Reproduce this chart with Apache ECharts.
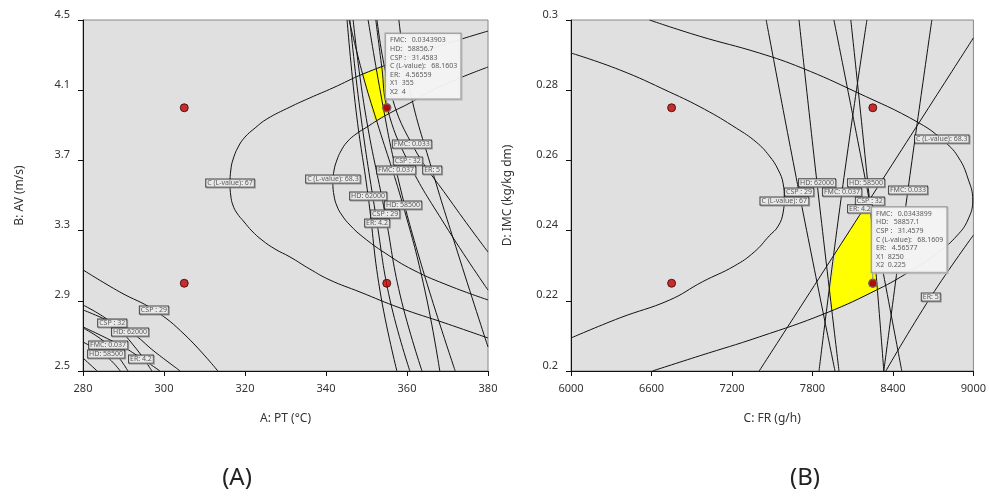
<!DOCTYPE html>
<html><head><meta charset="utf-8">
<script src="https://cdn.jsdelivr.net/npm/echarts@6/dist/echarts.min.js"></script>
<style>html,body{margin:0;padding:0;background:#fff}#c{width:989px;height:497px}</style>
</head><body><div id="c"></div>
<script>
// ---------- axis ticks ----------
const ticksA_x = [280, 300, 320, 340, 360, 380];
const ticksA_y = [2.5, 2.9, 3.3, 3.7, 4.1, 4.5];
const ticksB_x = [6000, 6600, 7200, 7800, 8400, 9000];
const ticksB_y = [0.2, 0.22, 0.24, 0.26, 0.28, 0.3];

// ---------- design points ----------
const designA = [[305, 4.0], [355, 4.0], [305, 3.0], [355, 3.0]];
const designB = [[6750, 0.275], [8250, 0.275], [6750, 0.225], [8250, 0.225]];

// ---------- panel A contours (PT, AV) ----------
const A_C67 = [[380,4.437],[368.9,4.358],[358.3,4.272],[349.1,4.192],[341.7,4.113],[336.0,4.056],[331.1,4.004],[325.4,3.936],[322.5,3.885],[320.0,3.833],[318.3,3.776],[317.0,3.702],[316.5,3.645],[316.3,3.571],[316.5,3.497],[317.0,3.446],[318.0,3.400],[319.8,3.349],[321.7,3.298],[324.2,3.246],[327.4,3.195],[331.1,3.150],[336.0,3.081],[341.0,3.018],[348.4,2.950],[358.3,2.859],[369.4,2.773],[380,2.688]];
const A_C683 = [[380,4.232],[373.1,4.170],[366.4,4.101],[360.7,4.027],[355.8,3.970],[352.8,3.930],[350.1,3.890],[347.4,3.850],[345.2,3.805],[343.7,3.754],[342.7,3.702],[342.0,3.645],[341.7,3.571],[342.0,3.497],[342.7,3.440],[343.9,3.389],[345.9,3.332],[349.1,3.264],[354.6,3.172],[361.5,3.076],[370.6,2.984],[380,2.905]];
const A_HD62000 = [[345.2,4.5],[347.4,3.987],[350.4,3.497],[353.3,2.961],[357.5,2.5]];
const A_ER42 = [[345.9,4.5],[348.4,3.987],[352.6,3.343],[355.8,2.905],[360.7,2.5]];
const A_CSP29 = [[346.7,4.5],[349.6,3.987],[354.6,3.395],[358.3,2.933],[363.7,2.5]];
const A_HD58500 = [[345.7,4.5],[349.1,4.187],[352.6,3.919],[359.0,3.446],[364.4,2.961],[368.1,2.5]];
const A_FMC037 = [[350.4,4.5],[353.8,4.044],[357.3,3.645],[363.2,3.132],[371.9,2.5]];
const A_CSP32 = [[352.3,4.5],[353.8,4.227],[355.1,3.999],[360.2,3.697],[369.4,3.332],[380,2.961]];
const A_FMC033 = [[352.6,4.5],[355.8,4.101],[361.2,3.793],[370.6,3.474],[380,3.178]];
const A_ER5 = [[358.0,4.5],[360.7,4.101],[366.2,3.645],[373.1,3.132],[380,2.637]];
const A_CSP29b = [[280,3.076],[289.1,2.950],[297.5,2.848],[305.2,2.705],[313.3,2.5]];
const A_CSP32b = [[280,2.876],[287.2,2.773],[292.8,2.637],[297.0,2.5]];
const A_HD62000b = [[280,2.848],[291.6,2.722],[297.8,2.608],[304.0,2.5]];
const A_ER42b = [[280,2.751],[289.1,2.648],[294.3,2.574],[299.0,2.5]];
const A_FMC037b = [[280,2.745],[286.2,2.648],[291.1,2.5]];
const A_HD58500b = [[280,2.665],[285.7,2.585],[289.2,2.5]];
const A_FMC033b = [[280,2.574],[283.5,2.5]];
const feasibleA = [[349.1,4.192],[354.1,4.232],[355.1,4.004],[355.6,3.970],[352.1,3.926]];

const labelsA = [
  ['FMC: 0.033',361.2,3.793],['CSP : 32',360.2,3.697],['FMC: 0.037',357.3,3.645],['ER: 5',366.2,3.645],
  ['HD: 62000',350.4,3.497],['HD: 58500',359.0,3.446],['CSP : 29',354.6,3.395],['ER: 4.2',352.6,3.343],
  ['C (L-value): 68.3',341.7,3.594],['C (L-value): 67',316.3,3.571],
  ['CSP : 29',297.5,2.848],['CSP : 32',287.2,2.773],['HD: 62000',291.6,2.722],
  ['FMC: 0.037',286.2,2.648],['HD: 58500',285.7,2.597],['ER: 4.2',294.3,2.568]
];
const flagA = [355, 4.0];
const flagTextA = ['FMC:   0.0343903','HD:   58856.7','CSP :   31.4583','C (L-value):   68.1603','ER:   4.56559','X1  355','X2  4'];

// ---------- panel B contours (FR, IMC) ----------
const B_C67 = [[6000,0.2906],[6362,0.2858],[6734,0.2795],[6994,0.2746],[7232,0.2692],[7381,0.2652],[7478,0.2613],[7545,0.2573],[7582,0.2533],[7590,0.2493],[7582,0.2453],[7545,0.2413],[7478,0.2385],[7366,0.2339],[7217,0.2299],[6979,0.2254],[6734,0.2202],[6362,0.2151],[6000,0.2094]];
const B_C683 = [[6585,0.3],[6957,0.2954],[7403,0.2906],[7723,0.2863],[8124,0.2795],[8593,0.2707],[8794,0.2650],[8891,0.2607],[8958,0.2550],[8995,0.2487],[8958,0.2430],[8876,0.2385],[8742,0.2339],[8518,0.2282],[8295,0.2234],[7901,0.2165],[7403,0.2097],[6957,0.2043],[6607,0.2]];
const B_CSP29 = [[7455,0.3],[7700,0.2510],[7968,0.2]];
const B_HD62000 = [[7700,0.3],[7834,0.2536],[7998,0.2]];
const B_HD58500 = [[7960,0.3],[8199,0.2536],[8466,0.2]];
const B_CSP32 = [[8086,0.3],[8235,0.2450],[8280,0.2251],[8332,0.2]];
const B_FMC037 = [[8206,0.3],[8020,0.2510],[7849,0.2]];
const B_FMC033 = [[8690,0.3],[8512,0.2516],[8332,0.2]];
const B_ER42 = [[9000,0.2949],[8182,0.2462],[7403,0.2]];
const B_ER5 = [[9000,0.2387],[8682,0.2211],[8347,0.2]];
const feasibleB = [[8191,0.2467],[8228,0.2467],[8280,0.2251],[8295,0.2234],[7946,0.2172],[7931,0.2231],[7976,0.2339]];

const labelsB = [
  ['HD: 62000',7834,0.2536],['HD: 58500',8199,0.2536],['CSP : 29',7700,0.2510],['FMC: 0.037',8020,0.2510],
  ['FMC: 0.033',8512,0.2516],['C (L-value): 67',7590,0.2484],['CSP : 32',8228,0.2484],['ER: 4.2',8154,0.2462],
  ['C (L-value): 68.3',8764,0.2661],['ER: 5',8682,0.2211]
];
const flagB = [8250, 0.225];
const flagTextB = ['FMC:   0.0343899','HD:   58857.1','CSP :   31.4579','C (L-value):   68.1609','ER:   4.56577','X1  8250','X2  0.225'];

// ---------- build ----------
const FONT = 'Noto Sans';
const contoursA = [A_C67, A_C683, A_HD62000, A_ER42, A_CSP29, A_HD58500, A_FMC037, A_CSP32, A_FMC033, A_ER5,
  A_CSP29b, A_CSP32b, A_HD62000b, A_ER42b, A_FMC037b, A_HD58500b, A_FMC033b];
const contoursB = [B_C67, B_C683, B_CSP29, B_HD62000, B_HD58500, B_CSP32, B_FMC037, B_FMC033, B_ER42, B_ER5];

function lineSer(pts, i) {
  return {type:'line', xAxisIndex:i, yAxisIndex:i, data:pts, symbol:'none', smooth:0.45,
    lineStyle:{color:'#111', width:1}, silent:true, z:3};
}
function polySer(pts, i) {
  return {type:'custom', xAxisIndex:i, yAxisIndex:i, data:[pts[0]], z:2, silent:true,
    renderItem:(p, api) => ({type:'polygon', shape:{points:pts.map(q => api.coord(q))},
      style:{fill:'#ffff00', stroke:'#e6e600', lineWidth:0.5}})};
}
function dotSer(pts, i) {
  return {type:'scatter', xAxisIndex:i, yAxisIndex:i, data:pts, symbolSize:8, z:5, silent:true,
    itemStyle:{color:'#c00000', borderColor:'#3a0000', borderWidth:1}};
}
function labelSer(lbls, i) {
  return {type:'scatter', xAxisIndex:i, yAxisIndex:i, symbolSize:0, z:6, silent:true,
    data:lbls.map(l => ({name:l[0], value:[l[1], l[2]]})),
    label:{show:true, position:'inside', formatter:'{b}', fontFamily:FONT, fontSize:7, lineHeight:7,
      color:'#333', backgroundColor:'#fff', borderColor:'#222', borderWidth:1, padding:[0,1,0,1],
      shadowColor:'#888', shadowOffsetX:1, shadowOffsetY:1, shadowBlur:0}};
}
function flagSer(pt, lines, i, pos, topY) {
  return [
    {type:'line', xAxisIndex:i, yAxisIndex:i, data:[pt, [pt[0], topY]], symbol:'none',
      lineStyle:{color:'#888', width:1}, z:6, silent:true},
    {type:'scatter', xAxisIndex:i, yAxisIndex:i, data:[pt], symbolSize:8, z:7, silent:true,
      itemStyle:{color:'#b00000', borderColor:'#777', borderWidth:1.5},
      label:{show:true, position:pos, formatter:lines.join('\n'), fontFamily:FONT, fontSize:7, lineHeight:8.6,
        color:'#333', backgroundColor:'#fff', borderColor:'#999', borderWidth:1.5, padding:[2,3,2,4],
        shadowColor:'#bbb', shadowOffsetX:1, shadowOffsetY:1, shadowBlur:0}}
  ];
}

const series = [];
series.push(polySer(feasibleA, 0), polySer(feasibleB, 1));
contoursA.forEach(c => series.push(lineSer(c, 0)));
contoursB.forEach(c => series.push(lineSer(c, 1)));
series.push(dotSer(designA, 0), dotSer(designB, 1));
series.push(labelSer(labelsA, 0), labelSer(labelsB, 1));
series.push(...flagSer(flagA, flagTextA, 0, [4, -69], 4.073));
series.push(...flagSer(flagB, flagTextB, 1, [4, -71], 0.2288));

const axisLine = {show:true, onZero:false, lineStyle:{color:'#111', width:1}};
const axisTick = {show:true, inside:false, length:5, lineStyle:{color:'#111'}};
const xLab = {fontFamily:FONT, fontSize:11, color:'#333', margin:12};
const yLab = {fontFamily:FONT, fontSize:11, color:'#333', margin:13, verticalAlign:'bottom'};
const nameTS = {fontFamily:FONT, fontSize:12, color:'#333'};

const option = {
  animation:false,
  backgroundColor:'#fff',
  grid:[
    {left:83, top:20, width:405, height:351, show:true, backgroundColor:'#e0e0e0', borderColor:'#888', borderWidth:1},
    {left:571, top:20, width:404, height:351, show:true, backgroundColor:'#e0e0e0', borderColor:'#888', borderWidth:1}
  ],
  xAxis:[
    {gridIndex:0, type:'value', min:ticksA_x[0], max:ticksA_x[ticksA_x.length-1], interval:20,
      name:'A: PT (°C)', nameLocation:'middle', nameGap:42, nameTextStyle:nameTS,
      axisLine, axisTick:Object.assign({customValues:ticksA_x}, axisTick), splitLine:{show:false},
      axisLabel:Object.assign({customValues:ticksA_x, formatter:v => String(v)}, xLab)},
    {gridIndex:1, type:'value', min:ticksB_x[0], max:ticksB_x[ticksB_x.length-1], interval:600,
      name:'C: FR (g/h)', nameLocation:'middle', nameGap:42, nameTextStyle:nameTS,
      axisLine, axisTick:Object.assign({customValues:ticksB_x}, axisTick), splitLine:{show:false},
      axisLabel:Object.assign({customValues:ticksB_x, formatter:v => String(v)}, xLab)}
  ],
  yAxis:[
    {gridIndex:0, type:'value', min:ticksA_y[0], max:ticksA_y[ticksA_y.length-1], interval:0.1,
      name:'B: AV (m/s)', nameLocation:'middle', nameGap:57, nameRotate:90, nameTextStyle:nameTS,
      axisLine, axisTick:Object.assign({customValues:ticksA_y}, axisTick), splitLine:{show:false},
      axisLabel:Object.assign({customValues:ticksA_y, formatter:v => (+v).toFixed(1)}, yLab)},
    {gridIndex:1, type:'value', min:ticksB_y[0], max:ticksB_y[ticksB_y.length-1], interval:0.02,
      name:'D: IMC (kg/kg dm)', nameLocation:'middle', nameGap:57, nameRotate:90, nameTextStyle:nameTS,
      axisLine, axisTick:Object.assign({customValues:ticksB_y}, axisTick), splitLine:{show:false},
      axisLabel:Object.assign({customValues:ticksB_y, formatter:v => String(+(+v).toFixed(2))}, yLab)}
  ],
  graphic:[
    {type:'text', x:237, y:478, style:{text:'(A)', fontFamily:FONT, fontSize:24, fill:'#222', align:'center', verticalAlign:'middle'}},
    {type:'text', x:805, y:478, style:{text:'(B)', fontFamily:FONT, fontSize:24, fill:'#222', align:'center', verticalAlign:'middle'}}
  ],
  series
};
const chart = echarts.init(document.getElementById('c'), null, {renderer:'canvas'});
chart.setOption(option);
</script>
</body></html>
